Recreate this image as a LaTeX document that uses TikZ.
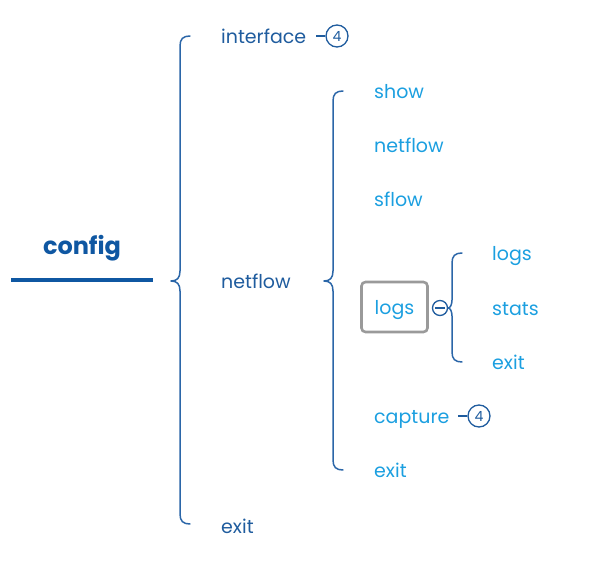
\documentclass[tikz,border=0pt]{standalone}
\usepackage{fontspec}
\setmainfont{Poppins}
\definecolor{dblue}{HTML}{1F5C9E}
\definecolor{cblue}{HTML}{0F57A2}
\definecolor{lblue}{HTML}{1B9FE0}
\definecolor{bline}{HTML}{2B66A8}
\definecolor{gbox}{HTML}{9A9A9A}
\tikzset{
  lvl1/.style={anchor=base west, inner sep=0pt, text=dblue, font=\fontsize{19}{22}\selectfont},
  lvl2/.style={anchor=base west, inner sep=0pt, text=lblue, font=\fontsize{19}{22}\selectfont},
  brace/.style={draw=bline, line width=1.5pt, line cap=round, line join=round},
  countc/.style={circle, draw=dblue, line width=1.3pt, minimum size=22pt, inner sep=0pt, text=dblue, font=\fontsize{14}{15}\selectfont},
  stub/.style={draw=dblue, line width=1.3pt},
}
\begin{document}
\begin{tikzpicture}[x=1pt,y=-1pt]
\useasboundingbox (0,0) rectangle (605,577);
% root
\node[anchor=base, inner sep=0pt, text=cblue, font=\fontsize{24}{28}\selectfont\bfseries] (config) at (82,255) {config};
\coordinate (ul) at (11,280);
\coordinate (ur) at (153,280);
\draw[cblue, line width=3.6pt] (ul) -- (ur);
% level 1
\node[lvl1] (interface) at (221,43.5) {interface};
\node[lvl1] (netflow) at (221,288.5) {netflow};
\node[lvl1] (exit1) at (221,533.5) {exit};
% main brace
\coordinate (b1t) at (190,36);
\coordinate (b1m) at (171,281);
\coordinate (b1b) at (190,524);
\draw[brace] (b1t) .. controls (183,36) and (180,39) .. (180,46) -- (180,271)
  .. controls (180,278) and (177,281) .. (b1m)
  .. controls (177,281) and (180,284) .. (180,291) -- (180,514)
  .. controls (180,521) and (183,524) .. (b1b);
% interface collapse marker
\node[countc] (c1) at (337,36) {4};
\coordinate (s1) at (316,36);
\draw[stub] (s1) -- (c1.west);
% level 2
\node[lvl2] (show) at (374,98.5) {show};
\node[lvl2] (netflow2) at (374,152.5) {netflow};
\node[lvl2] (sflow) at (374,206.5) {sflow};
\node[draw=gbox, line width=2.6pt, rounded corners=4pt, minimum width=66pt, minimum height=50pt, inner sep=0pt] (logsbox) at (394.5,307) {};
\node[lvl2, anchor=base] (logs2) at (logsbox.center |- 0,315) {logs};
\node[lvl2] (capture) at (374,423.5) {capture};
\node[lvl2] (exit2) at (374,477.5) {exit};
% level 2 brace
\coordinate (b2t) at (343,91);
\coordinate (b2m) at (324,281);
\coordinate (b2b) at (343,470);
\draw[brace] (b2t) .. controls (336,91) and (333,94) .. (333,101) -- (333,271)
  .. controls (333,278) and (330,281) .. (b2m)
  .. controls (330,281) and (333,284) .. (333,291) -- (333,460)
  .. controls (333,467) and (336,470) .. (b2b);
% capture marker
\node[countc] (c2) at (479,416) {4};
\coordinate (s2) at (458,416);
\draw[stub] (s2) -- (c2.west);
% minus circle
\node[circle, draw=dblue, line width=1.3pt, minimum size=15pt, inner sep=0pt] (minus) at (440,308) {};
\draw[stub] ([xshift=-5pt]minus.center) -- ([xshift=5pt]minus.center);
% level 3
\node[lvl2] (logs3) at (492,260.5) {logs};
\node[lvl2] (stats) at (492,315.5) {stats};
\node[lvl2] (exit3) at (492,369.5) {exit};
% level 3 brace
\coordinate (b3t) at (462,253);
\draw[brace] (b3t) .. controls (455,253) and (452,256) .. (452,263) -- (452,300)
  .. controls (452,305) and (450,308) .. (minus.east)
  .. controls (450,308) and (452,311) .. (452,316) -- (452,352)
  .. controls (452,359) and (455,362) .. (462,362);
\end{tikzpicture}
\end{document}
